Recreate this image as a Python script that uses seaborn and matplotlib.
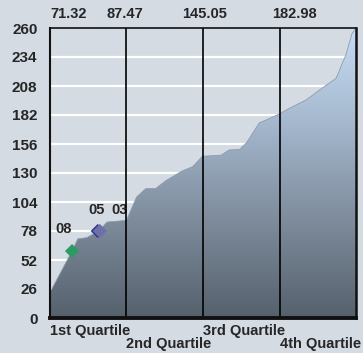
import numpy as np
import pandas as pd
import seaborn as sns
from matplotlib import colors, pyplot as plt
from matplotlib.transforms import blended_transform_factory

# sorted distribution, x = percentile position (0-100), y = value
pct = [0, 7.2, 9.1, 12.0, 16.0, 18.6, 25.0, 28.3, 31.3, 34.5, 37.8, 43.3, 46.6,
       49.8, 56.0, 58.6, 61.9, 64.2, 68.4, 70.7, 75.0, 78.2, 83.7, 88.9, 93.5,
       96.7, 98.7, 100]
values = [23, 60, 71, 72, 78, 86, 87.5, 108.5, 116, 116, 123, 132, 135.6,
          145, 146, 150.7, 151, 157, 175, 177.6, 183, 188, 195.5, 206, 215,
          236, 255, 260]

# highlighted items
mark_names = ["08", "05", "03"]
mark_pct = [7.2, 15.6, 16.3]
mark_values = [60, 78, 78]
mark_colors = ["#2e9a62", "#2b3c86", "#6f70aa"]

quartile_labels = ["1st Quartile", "2nd Quartile", "3rd Quartile", "4th Quartile"]
top_values = ["71.32", "87.47", "145.05", "182.98"]
top_pos = [6.0, 24.5, 50.5, 80.0]
yticks = list(range(0, 261, 26))

bg = "#d4dbe3"
fs = 10.5
sns.set_style("white")
plt.rcParams["font.family"] = ["Liberation Sans", "DejaVu Sans"]
plt.rcParams["font.weight"] = "bold"

fig = plt.figure(figsize=(3.63, 3.53), dpi=100, facecolor=bg)
ax = fig.add_axes([50 / 363, 1 - 318 / 353, 306 / 363, 290 / 353])
ax.set_facecolor(bg)

df = pd.DataFrame({"pct": pct, "value": values})

# grid lines behind the area
for t in yticks[1:-1]:
    ax.axhline(t, color="white", lw=1.6, zorder=1)

# area with vertical gradient
poly = ax.fill_between(df["pct"], df["value"], 0, color="none", zorder=2)
cmap = colors.LinearSegmentedColormap.from_list("g", ["#56616d", "#7d8b9b", "#a4b7cd", "#c6dcf4"])
grad = np.linspace(0, 1, 256).reshape(-1, 1)
img = ax.imshow(grad, cmap=cmap, aspect="auto", origin="lower",
                extent=[0, 100, 0, 260], zorder=2)
img.set_clip_path(poly.get_paths()[0], transform=ax.transData)
sns.lineplot(data=df, x="pct", y="value", ax=ax, color="#8e9cae", lw=0.6, zorder=3)

# quartile separators
for q in [25, 50, 75]:
    ax.axvline(q, color="black", lw=1.2, zorder=4)

# highlighted markers
mdf = pd.DataFrame({"pct": mark_pct, "value": mark_values, "name": mark_names})
sns.scatterplot(data=mdf, x="pct", y="value", hue="name", palette=mark_colors,
                marker="D", s=52, edgecolor="none", legend=False, ax=ax, zorder=5)
offsets = [(-6, 16), (-1, 15), (14, 15)]
for name, x, y, off in zip(mark_names, mark_pct, mark_values, offsets):
    ax.annotate(name, (x, y), xytext=off, textcoords="offset points",
                ha="center", va="center", fontsize=fs, fontweight="bold")

ax.set_xlim(0, 100)
ax.set_ylim(0, 260)
ax.set_yticks(yticks)
ax.set_yticklabels([str(t) for t in yticks], fontsize=11, fontweight="bold")
ax.tick_params(axis="y", length=0, pad=9)
ax.set_xticks([])
ax.set_xlabel("")
ax.set_ylabel("")

for side, lw in [("left", 1.5), ("bottom", 2.8), ("top", 1.2), ("right", 1.8)]:
    ax.spines[side].set_visible(True)
    ax.spines[side].set_color("#111111")
    ax.spines[side].set_linewidth(lw)
    ax.spines[side].set_zorder(6)

# top value labels
tr = blended_transform_factory(ax.transData, fig.transFigure)
for lab, x in zip(top_values, top_pos):
    ax.text(x, 1 - 14 / 353, lab, transform=tr, ha="center", va="center",
            fontsize=fs, fontweight="bold")

# staggered quartile labels
for i, lab in enumerate(quartile_labels):
    y = 1 - (331 if i % 2 == 0 else 344) / 353
    ax.text(i * 25, y, lab, transform=tr, ha="left", va="center",
            fontsize=fs, fontweight="bold")

fig.savefig("out.png", dpi=100, facecolor=bg)
